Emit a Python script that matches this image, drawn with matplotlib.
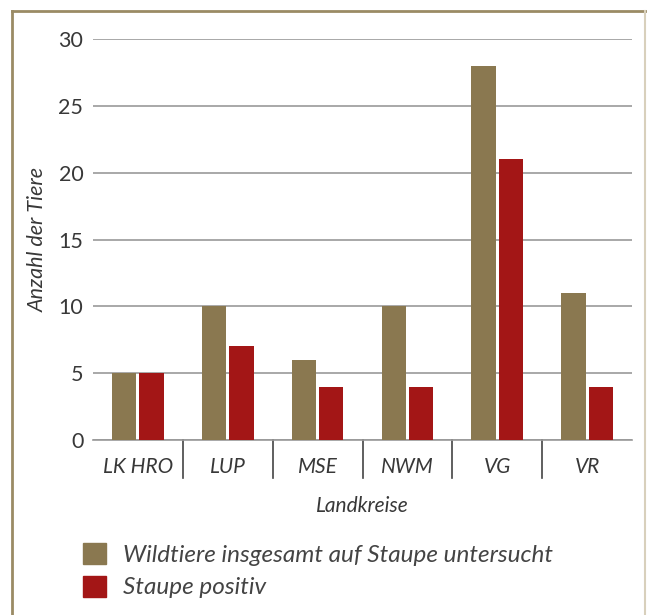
import matplotlib
matplotlib.use("Agg")
import matplotlib.pyplot as plt
from matplotlib.patches import Patch
from matplotlib.lines import Line2D
import numpy as np

categories = ["LK HRO", "LUP", "MSE", "NWM", "VG", "VR"]
total = [5, 10, 6, 10, 28, 11]
positive = [5, 7, 4, 4, 21, 4]
series_labels = ["Wildtiere insgesamt auf Staupe untersucht", "Staupe positiv"]
yticks = [0, 5, 10, 15, 20, 25, 30]

c_olive = "#8A7850"
c_red = "#A31616"
font = ["Lato", "DejaVu Sans"]
plt.rcParams['font.family'] = font
plt.rcParams['font.weight'] = 'normal'
txt = "#383838"

fig = plt.figure(figsize=(6.47, 6.15), dpi=100)
ax = fig.add_axes([93/647, 1-440/615, (632-93)/647, (440-39)/615])

x = np.arange(len(categories))
w = 0.27
ax.bar(x - w/2 - 0.017, total, width=w, color=c_olive, zorder=3)
ax.bar(x + w/2 + 0.017, positive, width=w, color=c_red, zorder=3)

ax.set_xlim(-0.5, len(categories) - 0.5)
ax.set_ylim(0, 30)
ax.set_yticks(yticks)
ax.set_yticklabels([str(t) for t in yticks], fontsize=15.5, color=txt)
ax.tick_params(axis='y', length=0, pad=7)
ax.yaxis.grid(True, color="#999999", linewidth=1.2, zorder=0)
ax.set_xticks(x)
ax.set_xticklabels(categories, fontsize=15, style='italic', color=txt)
ax.tick_params(axis='x', length=0, pad=12)
for s in ['top', 'right', 'left']:
    ax.spines[s].set_visible(False)
ax.spines['bottom'].set_color("#999999")
ax.spines['bottom'].set_linewidth(1.2)

trans = ax.get_xaxis_transform()
for b in np.arange(0.5, len(categories) - 0.5, 1.0):
    ax.add_line(Line2D([b, b], [0, -38/401], transform=trans, color="#444444",
                       linewidth=1.2, clip_on=False))

ax.set_xlabel("Landkreise", fontsize=15, style='italic', color=txt, labelpad=14)
ax.set_ylabel("Anzahl der Tiere", fontsize=15.5, style='italic', color=txt, labelpad=8)

handles = [Patch(color=c_olive), Patch(color=c_red)]
leg = fig.legend(handles, series_labels, loc='upper left', bbox_to_anchor=(83/647, 1-543/615),
                 frameon=False, prop={'size': 17.5, 'style': 'italic', 'family': font},
                 handlelength=0.95, handleheight=0.95, handletextpad=0.7, labelspacing=0.4,
                 borderpad=0, borderaxespad=0)
for t in leg.get_texts():
    t.set_color("#444444")

# frame border
fig.add_artist(Line2D([12/647, 12/647], [0, 1-11/615], transform=fig.transFigure,
                      color="#9A8B65", linewidth=2))
fig.add_artist(Line2D([12/647, 645/647], [1-11/615, 1-11/615], transform=fig.transFigure,
                      color="#9A8B65", linewidth=2))
fig.add_artist(Line2D([645/647, 645/647], [0, 1-11/615], transform=fig.transFigure,
                      color="#D8D0BC", linewidth=1.5))

fig.savefig("out.png", dpi=100)
